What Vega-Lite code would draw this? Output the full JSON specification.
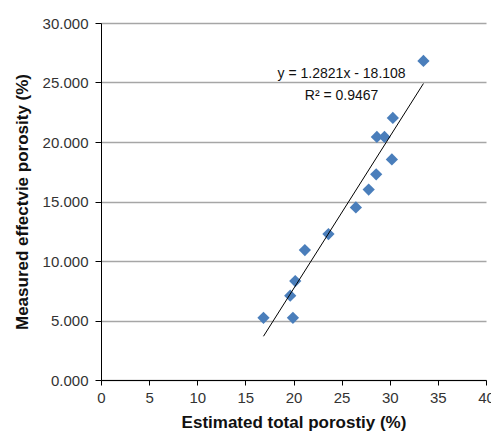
{
  "$schema": "https://vega.github.io/schema/vega-lite/v6.json",
  "width": 385,
  "height": 357,
  "autosize": {"type": "none"},
  "padding": {"left": 101, "top": 23, "right": 5, "bottom": 61},
  "background": "white",
  "config": {
    "view": {"stroke": null},
    "font": "Liberation Sans",
    "axis": {"labelFont": "Liberation Sans", "titleFont": "Liberation Sans"}
  },
  "datasets": {
    "pts": [
      {"x": 16.88, "y": 5.23},
      {"x": 19.94, "y": 5.23},
      {"x": 19.66, "y": 7.08},
      {"x": 20.18, "y": 8.31},
      {"x": 21.18, "y": 10.92},
      {"x": 23.63, "y": 12.26},
      {"x": 26.48, "y": 14.5},
      {"x": 27.81, "y": 16.0},
      {"x": 28.59, "y": 17.28},
      {"x": 30.22, "y": 18.53},
      {"x": 28.66, "y": 20.43},
      {"x": 29.45, "y": 20.43},
      {"x": 30.32, "y": 22.02},
      {"x": 33.5, "y": 26.81}
    ],
    "labels": [
      {"x": 25.0, "y": 25.7, "t": "y = 1.2821x - 18.108"},
      {"x": 25.0, "y": 23.85, "t": "R² = 0.9467"}
    ]
  },
  "layer": [
    {
      "data": {"name": "pts"},
      "mark": {"type": "point", "shape": "diamond", "filled": true, "color": "#4A7EBB", "size": 150, "opacity": 1},
      "encoding": {
        "x": {
          "field": "x", "type": "quantitative",
          "scale": {"domain": [0, 40], "nice": false, "zero": true},
          "axis": {
            "values": [0, 5, 10, 15, 20, 25, 30, 35, 40],
            "format": "d",
            "grid": false,
            "labelFlush": false,
            "labelOverlap": false,
            "domainColor": "#000000",
            "domainWidth": 1,
            "tickColor": "#000000",
            "tickSize": 5,
            "labelFontSize": 15,
            "labelColor": "#333333",
            "labelPadding": 5,
            "title": "Estimated total porostiy (%)",
            "titleFontSize": 17,
            "titleFontWeight": "bold",
            "titleColor": "#111111",
            "titlePadding": 9
          }
        },
        "y": {
          "field": "y", "type": "quantitative",
          "scale": {"domain": [0, 30], "nice": false},
          "axis": {
            "values": [0, 5, 10, 15, 20, 25, 30],
            "format": ".3f",
            "grid": true,
            "labelFlush": false,
            "labelOverlap": false,
            "gridColor": "#A6A6A6",
            "gridWidth": 1.5,
            "domainColor": "#000000",
            "domainWidth": 1,
            "tickColor": "#000000",
            "tickSize": 6,
            "labelFontSize": 15,
            "labelColor": "#333333",
            "labelPadding": 7,
            "title": "Measured effectvie porosity (%)",
            "titleFontSize": 17,
            "titleFontWeight": "bold",
            "titleColor": "#111111",
            "titlePadding": 11
          }
        }
      }
    },
    {
      "data": {"name": "pts"},
      "transform": [{"regression": "y", "on": "x", "method": "linear"}],
      "mark": {"type": "line", "color": "#000000", "strokeWidth": 1},
      "encoding": {
        "x": {"field": "x", "type": "quantitative"},
        "y": {"field": "y", "type": "quantitative"}
      }
    },
    {
      "data": {"name": "labels"},
      "mark": {"type": "text", "fontSize": 14, "color": "#111111", "align": "center", "baseline": "middle"},
      "encoding": {
        "x": {"field": "x", "type": "quantitative"},
        "y": {"field": "y", "type": "quantitative"},
        "text": {"field": "t"}
      }
    }
  ]
}
